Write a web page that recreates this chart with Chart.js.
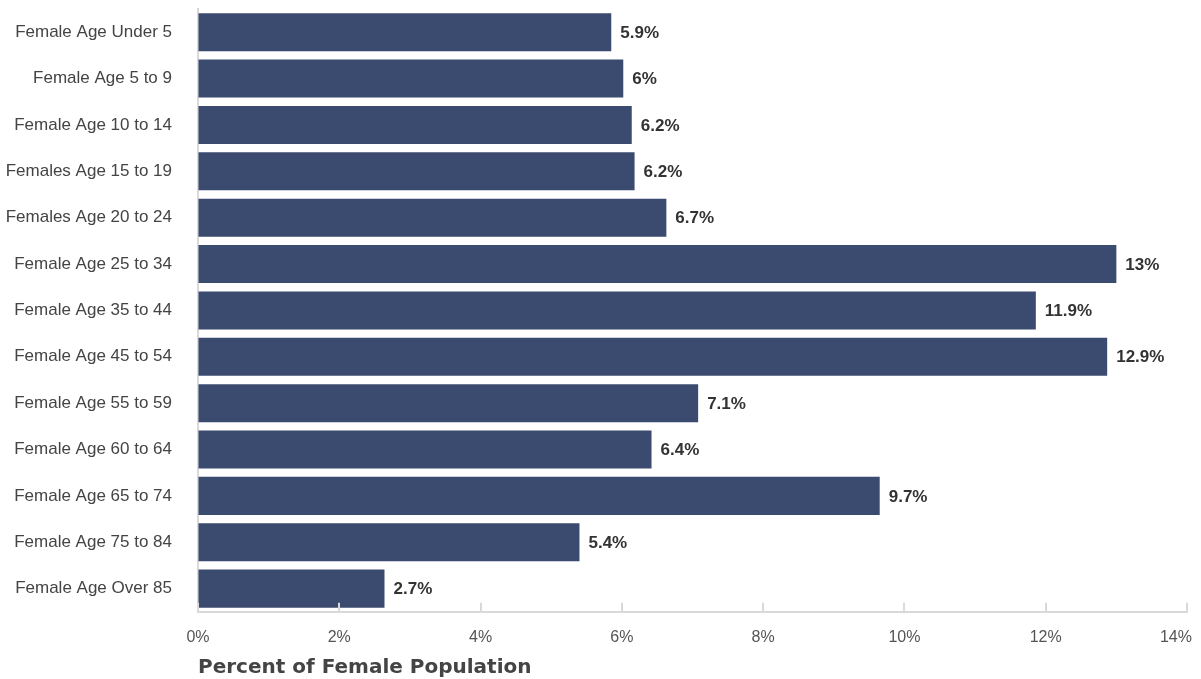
<!DOCTYPE html>
<html>
<head>
<meta charset="utf-8">
<script src="https://cdn.jsdelivr.net/npm/chart.js@4.4.3/dist/chart.umd.min.js"></script>
<style>
  html, body { margin: 0; padding: 0; background: #fff; }
  #wrap { width: 1201px; height: 679px; position: relative; }
</style>
</head>
<body>
<div id="wrap"><canvas id="chart"></canvas></div>
<script>
const ageGroups = [
  "Female Age Under 5",
  "Female Age 5 to 9",
  "Female Age 10 to 14",
  "Females Age 15 to 19",
  "Females Age 20 to 24",
  "Female Age 25 to 34",
  "Female Age 35 to 44",
  "Female Age 45 to 54",
  "Female Age 55 to 59",
  "Female Age 60 to 64",
  "Female Age 65 to 74",
  "Female Age 75 to 84",
  "Female Age Over 85",
];
const percentValues = [5.85, 6.02, 6.14, 6.18, 6.63, 13.0, 11.86, 12.87, 7.08, 6.42, 9.65, 5.4, 2.64];
const valueLabels = ["5.9%", "6%", "6.2%", "6.2%", "6.7%", "13%", "11.9%", "12.9%", "7.1%", "6.4%", "9.7%", "5.4%", "2.7%"];
const axisMax = 14;
const axisStep = 2;

const FONT = "'Liberation Sans', Arial, sans-serif";

// value labels at the end of each bar
const barValueLabels = {
  id: "barValueLabels",
  afterDatasetsDraw(chart) {
    const { ctx } = chart;
    const meta = chart.getDatasetMeta(0);
    ctx.save();
    ctx.font = `bold 17px ${FONT}`;
    ctx.fillStyle = "#333333";
    ctx.textAlign = "left";
    ctx.textBaseline = "middle";
    meta.data.forEach((bar, index) => {
      ctx.fillText(valueLabels[index], bar.x + 9, bar.y + 1);
    });
    ctx.restore();
  },
};

// short tick marks pointing up from the x axis line
const innerTicks = {
  id: "innerTicks",
  afterDraw(chart) {
    const { ctx, chartArea } = chart;
    const xScale = chart.scales.x;
    ctx.save();
    ctx.strokeStyle = "#d9d9d9";
    ctx.lineWidth = 2;
    xScale.ticks.forEach((tick) => {
      const x = Math.round(xScale.getPixelForValue(tick.value));
      ctx.beginPath();
      ctx.moveTo(x, chartArea.bottom);
      ctx.lineTo(x, chartArea.bottom - 9);
      ctx.stroke();
    });
    ctx.restore();
  },
};

new Chart(document.getElementById("chart"), {
  type: "bar",
  data: {
    labels: ageGroups,
    datasets: [
      {
        data: percentValues,
        backgroundColor: "#3b4a6f",
        borderWidth: 0,
        barPercentage: 0.82,
        categoryPercentage: 1,
      },
    ],
  },
  options: {
    indexAxis: "y",
    responsive: true,
    maintainAspectRatio: false,
    animation: false,
    layout: {
      padding: { top: 9, right: 14, bottom: -1, left: 0 },
    },
    scales: {
      x: {
        min: 0,
        max: axisMax,
        afterFit(scale) {
          scale.paddingRight = 0;
          scale.paddingLeft = 0;
        },
        ticks: {
          stepSize: axisStep,
          color: "#555555",
          font: { family: FONT, size: 16 },
          padding: 16,
          callback(value) {
            // last label sits pulled in from the edge, as in the source
            return value === axisMax ? `${value}%\u00a0\u00a0\u00a0\u00a0\u00a0` : `${value}%`;
          },
        },
        grid: {
          drawOnChartArea: false,
          drawTicks: false,
        },
        border: {
          color: "#d9d9d9",
          width: 2,
        },
        title: {
          display: true,
          text: "Percent of Female Population",
          align: "start",
          color: "#444444",
          font: { family: "'DejaVu Sans', sans-serif", size: 20, weight: "bold" },
          padding: { top: -7, bottom: 0 },
        },
      },
      y: {
        afterFit(scale) {
          scale.width = 198;
          scale.paddingTop = 0;
          scale.paddingBottom = 0;
        },
        ticks: {
          color: "#444444",
          font: { family: FONT, size: 17 },
          padding: 26,
        },
        grid: {
          display: false,
          drawTicks: false,
        },
        border: {
          color: "#d9d9d9",
          width: 2,
        },
      },
    },
    plugins: {
      legend: { display: false },
      tooltip: { enabled: false },
    },
  },
  plugins: [barValueLabels, innerTicks],
});
</script>
</body>
</html>
